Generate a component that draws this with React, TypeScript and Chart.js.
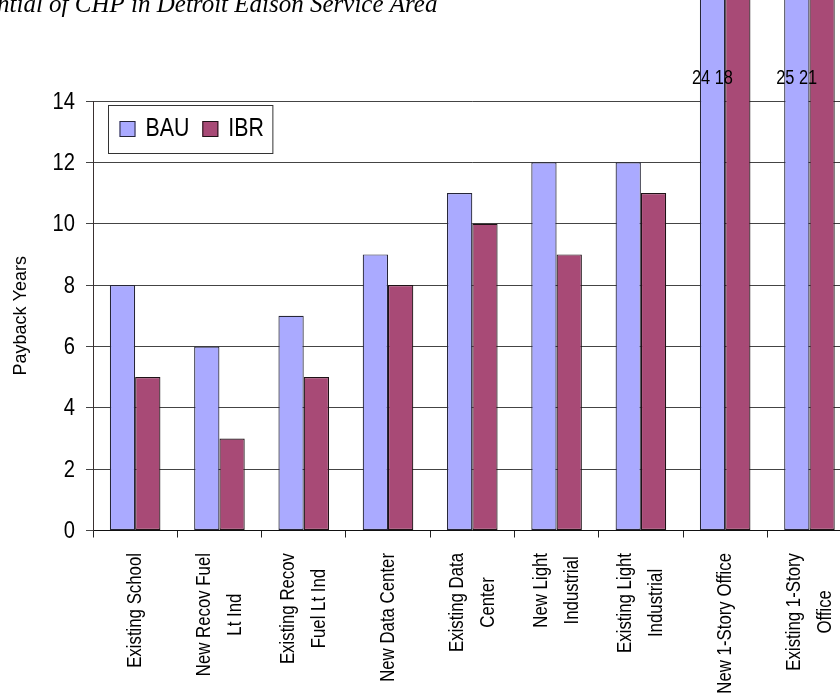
import React, { useEffect, useRef } from "react";
import { Chart, registerables } from "chart.js";

Chart.register(...registerables);

// Building types (multi-line labels are stacked and centred on each other)
const categories: string[][] = [
  ["Existing School"],
  ["New Recov Fuel", "Lt Ind"],
  ["Existing Recov", "Fuel Lt Ind"],
  ["New Data Center"],
  ["Existing Data", "Center"],
  ["New Light", "Industrial"],
  ["Existing Light", "Industrial"],
  ["New 1-Story Office"],
  ["Existing 1-Story", "Office"],
];

// Simple payback in years under each rate scenario
const bauYears = [8, 6, 7, 9, 11, 12, 12, 24, 25];
const ibrYears = [5, 3, 5, 8, 10, 9, 11, 18, 21];

const seriesNames = ["BAU", "IBR"];
const seriesColors = ["#AAAAFF", "#A84A76"];
const seriesBorders = ["#262638", "#1e1216"];

const yTicks = [0, 2, 4, 6, 8, 10, 12, 14];
const yTitle = "Payback Years";
const chartTitle = "Potential of CHP in Detroit Edison Service Area";

const SANS = '"Liberation Sans", Arial, sans-serif';
const SERIF = '"Liberation Serif", "Times New Roman", serif';

type TextOpts = {
  size: number;
  family?: string;
  style?: string;
  sx?: number;
  align?: CanvasTextAlign;
  baseline?: CanvasTextBaseline;
  rotate?: number;
  color?: string;
};

function fontOf(o: TextOpts) {
  return `${o.style ?? "normal"} ${o.size}px ${o.family ?? SANS}`;
}

function textWidth(ctx: CanvasRenderingContext2D, text: string, o: TextOpts) {
  ctx.save();
  ctx.font = fontOf(o);
  const w = ctx.measureText(text).width * (o.sx ?? 1);
  ctx.restore();
  return w;
}

function drawText(ctx: CanvasRenderingContext2D, text: string, x: number, y: number, o: TextOpts) {
  ctx.save();
  ctx.translate(x, y);
  if (o.rotate) ctx.rotate(o.rotate);
  ctx.scale(o.sx ?? 1, 1);
  ctx.font = fontOf(o);
  ctx.fillStyle = o.color ?? "#000";
  ctx.textAlign = o.align ?? "left";
  ctx.textBaseline = o.baseline ?? "alphabetic";
  ctx.fillText(text, 0, 0);
  ctx.restore();
}

const decorPlugin = {
  id: "paybackDecor",
  afterDraw(chart: any) {
    const ctx: CanvasRenderingContext2D = chart.ctx;
    const area = chart.chartArea;
    const xs = chart.scales.x;
    const ys = chart.scales.y;

    // title, running off the left edge
    const titleOpts: TextOpts = { size: 25, family: SERIF, style: "italic" };
    const lead = textWidth(ctx, "Pote", titleOpts);
    drawText(ctx, chartTitle, -lead - 3, 12, titleOpts);

    // y tick labels
    const tickOpts: TextOpts = { size: 24, sx: 0.84, align: "right", baseline: "middle" };
    yTicks.forEach((v) => {
      drawText(ctx, String(v), area.left - 18, ys.getPixelForValue(v) + 1, tickOpts);
    });

    // y axis title
    drawText(ctx, yTitle, 21, (area.top + area.bottom) / 2, {
      size: 18,
      align: "center",
      baseline: "middle",
      rotate: -Math.PI / 2,
    });

    // category labels, rotated to read upwards
    const catOpts: TextOpts = { size: 21, sx: 0.8, align: "center", baseline: "middle", rotate: -Math.PI / 2 };
    const lineH = 31;
    const labelTop = area.bottom + 22.5;
    categories.forEach((lines, i) => {
      const cx = xs.getPixelForValue(i);
      const w = Math.max(...lines.map((l) => textWidth(ctx, l, catOpts)));
      lines.forEach((line, j) => {
        const off = (j - (lines.length - 1) / 2) * lineH;
        drawText(ctx, line, cx + off, labelTop + w / 2, catOpts);
      });
    });

    // value labels for bars running past the axis maximum
    const yMax = ys.max;
    const bauMeta = chart.getDatasetMeta(0);
    const valOpts: TextOpts = { size: 20, sx: 0.82, align: "left", baseline: "middle" };
    bauYears.forEach((v, i) => {
      const w = ibrYears[i];
      if (v > yMax || w > yMax) {
        const bar = bauMeta.data[i];
        const left = bar.x - bar.width / 2;
        drawText(ctx, `${v} ${w}`, left - 8, ys.getPixelForValue(yMax) - 23, valOpts);
      }
    });

    // legend box inside the plot
    const legOpts: TextOpts = { size: 26, sx: 0.82, align: "left", baseline: "alphabetic" };
    const boxL = area.left + 15.5;
    const boxT = area.top + 4.5;
    const boxH = 48;
    const sw = 16;
    let x = boxL + 11;
    const items = seriesNames.map((name, k) => {
      const item = { name, k, sx: x, tx: x + sw + 10 };
      x = item.tx + textWidth(ctx, name, legOpts) + 13;
      return item;
    });
    const boxW = x - 13 + 9 - boxL;
    ctx.save();
    ctx.fillStyle = "#fff";
    ctx.fillRect(boxL, boxT, boxW, boxH);
    ctx.strokeStyle = "#333";
    ctx.lineWidth = 1;
    ctx.strokeRect(boxL, boxT, boxW, boxH);
    items.forEach((it) => {
      ctx.fillStyle = seriesColors[it.k];
      ctx.fillRect(it.sx, boxT + 15.5, sw, sw);
      ctx.strokeStyle = seriesBorders[it.k];
      ctx.strokeRect(it.sx + 0.5, boxT + 16, sw - 1, sw - 1);
      drawText(ctx, it.name, it.tx, boxT + 30.5, legOpts);
    });
    ctx.restore();
  },
};

export default function App() {
  const canvasRef = useRef<HTMLCanvasElement | null>(null);

  useEffect(() => {
    const canvas = canvasRef.current;
    if (!canvas) return;
    const chart = new Chart(canvas, {
      type: "bar",
      data: {
        labels: categories.map((c) => c.join(" ")),
        datasets: [
          {
            label: seriesNames[0],
            data: bauYears,
            backgroundColor: seriesColors[0],
            borderColor: seriesBorders[0],
            borderWidth: 1.2,
            borderSkipped: false,
            clip: false,
          },
          {
            label: seriesNames[1],
            data: ibrYears,
            backgroundColor: seriesColors[1],
            borderColor: seriesBorders[1],
            borderWidth: 1.2,
            borderSkipped: false,
            clip: false,
          },
        ],
      },
      options: {
        responsive: false,
        animation: false,
        events: [],
        devicePixelRatio: 1,
        categoryPercentage: 0.6,
        barPercentage: 1.0,
        layout: { padding: { left: 86, top: 101, right: 28.4, bottom: 158.5 } },
        plugins: {
          legend: { display: false },
          title: { display: false },
          tooltip: { enabled: false },
        },
        scales: {
          x: {
            offset: true,
            ticks: { display: false },
            grid: {
              offset: true,
              drawOnChartArea: false,
              drawTicks: true,
              tickLength: 7,
              color: "#222",
              lineWidth: 1,
            },
            border: { color: "#111", width: 1 },
          },
          y: {
            min: 0,
            max: 14,
            ticks: { display: false, stepSize: 2 },
            grid: {
              drawTicks: true,
              tickLength: 7,
              color: "#444",
              lineWidth: 1,
            },
            border: { color: "#3a3030", width: 1 },
          },
        },
      },
      plugins: [decorPlugin],
    });
    return () => chart.destroy();
  }, []);

  return (
    <div
      style={{
        position: "fixed",
        left: 0,
        top: 0,
        width: 840,
        height: 696,
        overflow: "hidden",
        background: "#fff",
      }}
    >
      <canvas ref={canvasRef} width={880} height={696} style={{ display: "block" }} />
    </div>
  );
}
